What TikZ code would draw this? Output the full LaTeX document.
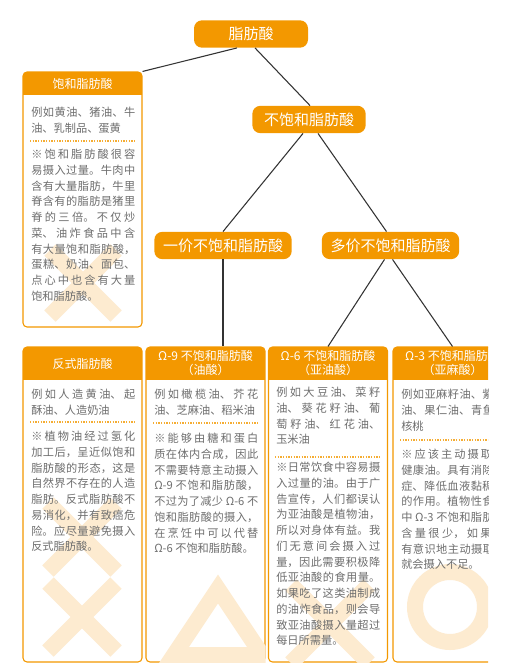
\documentclass[tikz,border=0pt]{standalone}
\usepackage{fontspec}
\newfontfamily\cjk{Noto Sans CJK SC}
\usetikzlibrary{calc, positioning}
\definecolor{fat}{HTML}{F39800}
\definecolor{fatpale}{HTML}{FDEBD0}
\definecolor{txt}{HTML}{6E6E6E}
\definecolor{wire}{HTML}{333333}
\XeTeXlinebreaklocale "zh"
\XeTeXlinebreakskip=0pt plus 2pt

\tikzset{
  cat/.style={fill=fat, text=white, rounded corners=6pt, minimum height=20.5pt,
    inner xsep=0pt, font=\cjk\fontsize{11.25}{13}\selectfont},
  panel/.style={draw=fat, line width=0.8pt, rounded corners=3pt, fill=white,
    minimum width=89.25pt, inner sep=0pt,
    path picture={\fill[fat, sharp corners] (path picture bounding box.north west)
      rectangle ([yshift=-#1]path picture bounding box.north east);}},
  headtext/.style={text=white, align=center, inner sep=0pt,
    font=\cjk\fontsize{9}{10.5}\selectfont},
  body/.style={anchor=north west, text=txt, text width=78pt, align=justify,
    inner sep=0pt, font=\cjk\fontsize{8.4}{11.8}\selectfont},
  sep/.style={draw=fat!80, line width=0.8pt, dash pattern=on 1pt off 1pt},
  link/.style={draw=wire, line width=0.8pt},
  ghost/.style={draw=fatpale, line width=12pt}
}

\begin{document}
\begin{tikzpicture}[x=0.75pt, y=-0.75pt]
  \useasboundingbox (0,0) rectangle (506,666);
  \clip (0,0) rectangle (488,666);

  % tree of categories
  \node[cat, minimum width=85.5pt] (fa) at (251,34) {脂肪酸};
  \node[cat, minimum width=85pt] (unsat) at (309,119.5) {不饱和脂肪酸};
  \node[cat, minimum width=103pt] (mono) at (223,245.5) {一价不饱和脂肪酸};
  \node[cat, minimum width=103pt] (poly) at (390.5,245.5) {多价不饱和脂肪酸};

  % panels
  \node[panel=17.25pt, minimum height=191.25pt] (satbox) at (82.5,199.5) {};
  \node[panel=24.75pt, minimum height=236.25pt] (transbox) at (82.5,504.5) {};
  \node[panel=24.75pt, minimum height=236.25pt] (o9box) at (205.5,504.5) {};
  \node[panel=24.75pt, minimum height=236.25pt] (o6box) at (328,504.5) {};
  \node[panel=24.75pt, minimum height=236.25pt] (o3box) at (452.5,504.5) {};

  % pale marks behind the text
  \begin{scope}
    \clip (satbox.south west) rectangle (satbox.north east);
    \draw[ghost] (50,250) -- (116,316) (116,250) -- (50,316);
  \end{scope}
  \begin{scope}
    \clip (transbox.south west) rectangle (transbox.north east);
    \draw[ghost] (48,503) -- (116,571) (116,503) -- (48,571);
    \draw[ghost] (48,583) -- (116,651) (116,583) -- (48,651);
  \end{scope}
  \begin{scope}
    \clip (o9box.south west) rectangle (o9box.north east);
    \draw[ghost, line join=miter] (218,589) -- (262,655) -- (174,655) -- cycle;
  \end{scope}
  \begin{scope}
    \clip (o6box.south west) rectangle (o6box.north east);
    \draw[ghost] (291,585) -- (369,663) (369,585) -- (291,663);
  \end{scope}
  \begin{scope}
    \clip (o3box.south west) rectangle (o3box.north east);
    \draw[ghost] (450,607) circle (35);
  \end{scope}

  % headers
  \node[headtext] (sathead) at (82.5,84) {饱和脂肪酸};
  \node[headtext] (transhead) at (82.5,363.5) {反式脂肪酸};
  \node[headtext] (o9head) at (205.5,363.5) {Ω-9 不饱和脂肪酸\\（油酸）};
  \node[headtext] (o6head) at (328,363.5) {Ω-6 不饱和脂肪酸\\（亚油酸）};
  \node[headtext] (o3head) at (452.5,363.5) {Ω-3 不饱和脂肪酸\\（亚麻酸）};

  % saturated
  \node[body] (satex) at (31,107) {例如黄油、猪油、牛\linebreak 油、乳制品、蛋黄};
  \draw[sep] (30,141) -- (135,141);
  \node[body] (satnote) at (31,149) {※饱和脂肪酸很容\linebreak 易摄入过量。牛肉中\linebreak
    含有大量脂肪，牛里\linebreak 脊含有的脂肪是猪里\linebreak 脊的三倍。不仅炒\linebreak
    菜、油炸食品中含\linebreak 有大量饱和脂肪酸，\linebreak 蛋糕、奶油、面包、\linebreak
    点心中也含有大量\linebreak 饱和脂肪酸。};

  % trans
  \node[body] (transex) at (31,389) {例如人造黄油、起\linebreak 酥油、人造奶油};
  \draw[sep] (30,422) -- (135,422);
  \node[body] (transnote) at (31,431) {※植物油经过氢化\linebreak 加工后，呈近似饱和\linebreak
    脂肪酸的形态，这是\linebreak 自然界不存在的人造\linebreak 脂肪。反式脂肪酸不\linebreak
    易消化，并有致癌危\linebreak 险。应尽量避免摄入\linebreak 反式脂肪酸。};

  % omega 9
  \node[body] (o9ex) at (154,389) {例如橄榄油、芥花\linebreak 油、芝麻油、稻米油};
  \draw[sep] (153,423) -- (258,423);
  \node[body] (o9note) at (154,433) {※能够由糖和蛋白\linebreak 质在体内合成，因此\linebreak
    不需要特意主动摄入\linebreak Ω-9 不饱和脂肪酸，\linebreak 不过为了减少 Ω-6 不\linebreak
    饱和脂肪酸的摄入，\linebreak 在烹饪中可以代替\linebreak Ω-6 不饱和脂肪酸。};

  % omega 6
  \node[body] (o6ex) at (276,387) {例如大豆油、菜籽\linebreak 油、葵花籽油、葡\linebreak
    萄籽油、红花油、\linebreak 玉米油};
  \draw[sep] (275,457) -- (381,457);
  \node[body] (o6note) at (276,462) {※日常饮食中容易摄\linebreak 入过量的油。由于广\linebreak
    告宣传，人们都误认\linebreak 为亚油酸是植物油，\linebreak 所以对身体有益。我\linebreak
    们无意间会摄入过\linebreak 量，因此需要积极降\linebreak 低亚油酸的食用量。\linebreak
    如果吃了这类油制成\linebreak 的油炸食品，则会导\linebreak 致亚油酸摄入量超过\linebreak
    每日所需量。};

  % omega 3
  \node[body] (o3ex) at (401,389) {例如亚麻籽油、紫苏\linebreak 油、果仁油、青鱼、\linebreak 核桃};
  \draw[sep] (400,440) -- (506,440);
  \node[body] (o3note) at (401,449) {※应该主动摄取的\linebreak 健康油。具有消除炎\linebreak
    症、降低血液黏稠度\linebreak 的作用。植物性食品\linebreak 中 Ω-3 不饱和脂肪酸\linebreak
    含量很少，如果不\linebreak 有意识地主动摄取，\linebreak 就会摄入不足。};

  % connectors
  \draw[link] ($(fa.south)+(-14,0)$) -- (satbox.north east);
  \draw[link] ($(fa.south)+(4,0)$) -- ($(unsat.north)+(1,0)$);
  \draw[link] ($(unsat.south)+(-6,0)$) -- (mono.north);
  \draw[link] ($(unsat.south)+(9,0)$) -- ($(poly.north)+(-4,0)$);
  \draw[link] (mono.south) -- (mono.south |- o9box.north);
  \draw[link] ($(poly.south)+(-6,0)$) -- (o6box.north);
  \draw[link] ($(poly.south)+(2,0)$) -- (o3box.north);
\end{tikzpicture}
\end{document}
